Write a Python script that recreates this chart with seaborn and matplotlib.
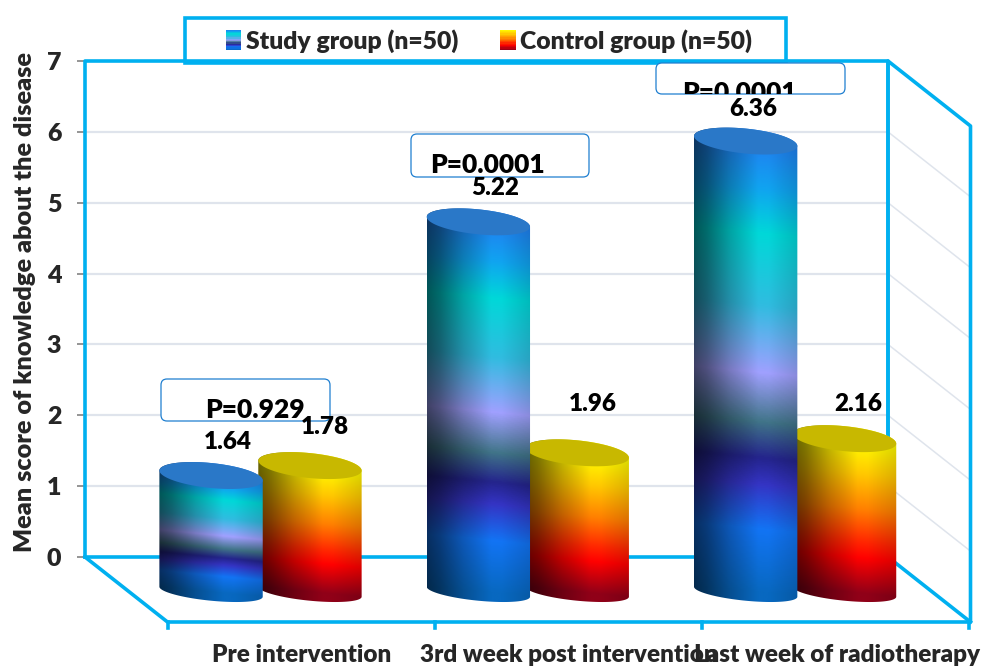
import numpy as np
import pandas as pd
import matplotlib
matplotlib.use("Agg")
import matplotlib.pyplot as plt
import seaborn as sns
from matplotlib.colors import LinearSegmentedColormap
from matplotlib.legend_handler import HandlerBase
from matplotlib.patches import FancyBboxPatch, Patch, Polygon, Rectangle
from matplotlib.transforms import Bbox, IdentityTransform

# values
categories = ["Pre intervention", "3rd week post intervention", "Last week of radiotherapy"]
study_group = [1.64, 5.22, 6.36]
control_group = [1.78, 1.96, 2.16]
study_name = "Study group (n=50)"
control_name = "Control group (n=50)"
p_values = ["P=0.929", "P=0.0001", "P=0.0001"]
y_ticks = [0, 1, 2, 3, 4, 5, 6, 7]

W, H = 981, 666
BLUE = "#00b0f0"
GRID = "#dfe4ec"
WEIGHT = "heavy"

study_stops = [(0, "#2080f0"), (.10, "#10a4f0"), (.20, "#00d8d8"), (.36, "#30bce0"),
               (.51, "#a0a0ff"), (.62, "#407488"), (.70, "#24248c"), (.76, "#3434c4"),
               (.86, "#1274f4"), (1, "#0868c0")]
control_stops = [(0, "#ffff00"), (.22, "#ffc800"), (.45, "#ff8000"), (.66, "#ff2800"),
                 (.77, "#ff0000"), (1, "#900018")]
study_cmap = LinearSegmentedColormap.from_list("study", study_stops)
control_cmap = LinearSegmentedColormap.from_list("control", control_stops)

sns.set_style("white")
plt.rcParams["font.family"] = ["Lato", "DejaVu Sans"]
plt.rcParams["font.weight"] = WEIGHT

df = pd.DataFrame({
    "category": categories * 2,
    "score": study_group + control_group,
    "group": [study_name] * 3 + [control_name] * 3,
})

fig = plt.figure(figsize=(W / 100, H / 100), dpi=100)
ax = fig.add_axes([85 / W, (H - 557) / H, 803 / W, 496 / H])
ax.patch.set_visible(False)

sns.barplot(data=df, x="category", y="score", hue="group", order=categories,
            hue_order=[study_name, control_name], width=.74, gap=-.045,
            legend=False, ax=ax)

x_lo, x_hi = -.6566, 2.3475
ax.set_xlim(x_lo, x_hi)
ax.set_ylim(0, 7)
ax.set_autoscale_on(False)
px_x = 803 / (x_hi - x_lo)
px_y = 496 / 7
for s in ax.spines.values():
    s.set_visible(False)

ax.set_yticks(y_ticks)
ax.tick_params(axis="y", length=6, width=1.3, color="#8c8c8c", pad=11, labelsize=18, left=True)
ax.set_ylabel("Mean score of knowledge about the disease", fontsize=18.2, fontweight=WEIGHT)
ax.yaxis.set_label_coords((36 - 85) / 803, (557 - 302) / 496)

ax.set_xticks(np.arange(3) + .155)
ax.set_xticklabels(categories)
ax.tick_params(axis="x", length=0, pad=63, labelsize=17.5, bottom=True)
ax.set_xlabel("")

# the box: back wall, side wall and floor
dx = 82.5 / px_x
dy = 65 / px_y


def wall(xs, ys, **kw):
    ax.plot(xs, ys, clip_on=False, solid_capstyle="projecting", **kw)


for v in y_ticks[1:-1]:
    wall([x_lo, x_hi], [v, v], color=GRID, lw=1.6, zorder=1)
    wall([x_hi, x_hi + dx], [v, v - dy], color=GRID, lw=1.1, zorder=1)
blue = dict(color=BLUE, lw=2.6, zorder=2)
wall([x_lo, x_lo, x_hi, x_hi], [0, 7, 7, 0], **blue)
wall([x_lo, x_hi], [0, 0], **blue)
wall([x_lo, x_lo + dx, x_hi + dx, x_hi + dx, x_hi, x_hi], [0, -dy, -dy, 7 - dy, 7, 0], **blue)
wall([x_hi, x_hi + dx], [0, -dy], **blue)
for i in range(4):
    tx = x_lo + dx + i
    wall([tx, tx], [-dy, -dy - 6 / px_y], color=BLUE, lw=2.6, zorder=2)

# cylinders on top of the seaborn bars, same x, width and height
base = -.49
b = 12.5 / px_y
b_low = 9 / px_y
tilt = 5 / px_y
t = np.linspace(0, 2 * np.pi, 121)
bars = [p for p in ax.patches if p.get_height() > 0]
for n, bar in enumerate(bars):
    bar.set_alpha(0)
    is_study = n < 3
    x0, w, h = bar.get_x(), bar.get_width(), bar.get_height()
    cx = x0 + w / 2
    top = base + h
    z = 4 if is_study else 3

    xs = np.linspace(x0, x0 + w, 160)
    ys = np.linspace(base - 2 * b, top + 2 * b, 500)
    gx, gy = np.meshgrid(xs, ys)
    u = (gx - x0) / w
    v = np.clip((top - tilt * (2 * u - 1) - gy) / h, 0, 1)
    shade = np.interp(u, [0, .12, .35, .62, .72, 1], [.4, .5, .76, 1, 1, .86])
    cmap = study_cmap if is_study else control_cmap
    rgb = cmap(v)[..., :3] * shade[..., None]
    im = ax.imshow(rgb, origin="lower", aspect="auto", interpolation="bilinear",
                   extent=(x0, x0 + w, ys[0], ys[-1]), zorder=z)

    ex = cx + w / 2 * np.cos(t)
    ey = b * np.sin(t) - tilt * np.cos(t)
    ey_low = b_low * np.sin(t) - tilt * np.cos(t)
    outline = np.vstack([
        np.column_stack([ex[:61], top + ey[:61]]),
        np.column_stack([ex[60:], base + ey_low[60:]]),
    ])
    clip = Polygon(outline, closed=True, transform=ax.transData)
    im.set_clip_box(fig.bbox)
    im.set_clip_path(clip)

    cap = Polygon(np.column_stack([ex, top + ey]), closed=True, clip_on=False, lw=0,
                  facecolor="#2a78c8" if is_study else "#c8b800", zorder=z + .1)
    ax.add_patch(cap)

# value labels, bars come study first then control
label_shift = [(17, 34), (17, 34), (8, 32), (15, 39), (16, 49), (14, 35)]
for bar, (sx, sy) in zip(bars, label_shift):
    ax.annotate(f"{bar.get_height():.2f}", (bar.get_x() + bar.get_width() / 2, base + bar.get_height()),
                xytext=(sx, sy), textcoords="offset pixels", ha="center", va="center",
                fontsize=17.5, fontweight=WEIGHT, color="black", zorder=9, annotation_clip=False)

# P value call-outs, placed in figure pixels
p_boxes = [(161, 379, 330, 421), (411, 134, 589, 177), (656, 63, 845, 94)]
p_centres = [(255, 410), (488, 165), (739, 93)]
for (l, tp, r, bt), (cx, cy), txt in zip(p_boxes, p_centres, p_values):
    box = FancyBboxPatch((l + 5, H - bt + 5), r - l - 10, bt - tp - 10,
                         boxstyle="round,pad=5,rounding_size=6", transform=IdentityTransform(),
                         facecolor="white", edgecolor="#1f7fd0", lw=.9, clip_on=False, zorder=7)
    ax.add_patch(box)
    lab = ax.text(cx, H - cy, txt, transform=IdentityTransform(), ha="center", va="center",
                  fontsize=19, fontweight=WEIGHT, color="black", zorder=8)
    lab.set_clip_on(True)
    lab.set_clip_box(Bbox([[l, H - bt], [r, H - tp]]))


class GradientSwatch(HandlerBase):
    def __init__(self, cmap):
        super().__init__()
        self.cmap = cmap

    def create_artists(self, legend, orig_handle, xdescent, ydescent, width, height, fontsize, trans):
        n = 16
        out = []
        for i in range(n):
            y0 = -ydescent + height * (1 - (i + 1) / n)
            out.append(Rectangle((-xdescent, y0), width, height / n + .3, lw=0,
                                 facecolor=self.cmap((i + .5) / n), transform=trans))
        return out


h_study = Patch(label=study_name)
h_control = Patch(label=control_name)
fig.patches.append(Rectangle((184.5 / W, (H - 63) / H), 601 / W, 45 / H, transform=fig.transFigure,
                             facecolor="white", edgecolor=BLUE, lw=2.6, zorder=-1, figure=fig))
fig.legend(handles=[h_study, h_control], ncol=2, frameon=False, loc="center",
           bbox_to_anchor=(489 / W, (H - 41) / H), prop=dict(size=17.8, weight=WEIGHT),
           handlelength=.62, handleheight=.9, handletextpad=.2, columnspacing=1.7,
           handler_map={h_study: GradientSwatch(study_cmap), h_control: GradientSwatch(control_cmap)})

fig.savefig("out.png", dpi=100)
